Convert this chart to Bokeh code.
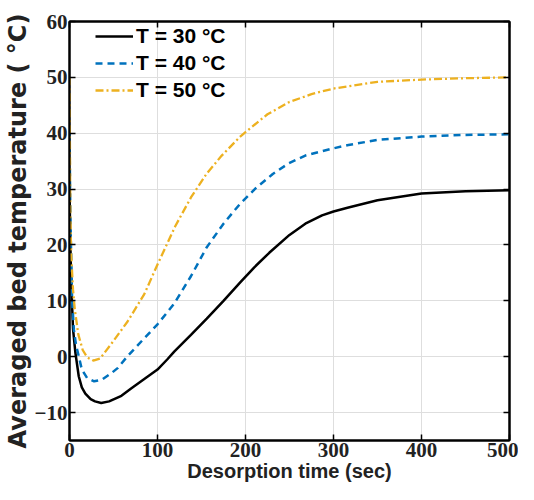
from bokeh.plotting import figure
from bokeh.models import LinearAxis, FixedTicker, Range1d
from bokeh.embed import file_html
from bokeh.resources import INLINE

# ---- data ----
t30 = [0, 1, 2, 4, 6.7, 10.5, 14, 18, 24, 29, 36, 45, 59, 70, 85, 100, 111, 119, 138, 156,
       175, 194, 210, 227, 250, 268, 287, 300, 317, 350, 400, 450, 500]
y30 = [30, 20, 13, 5, 0.7, -3.5, -5.5, -6.6, -7.6, -8.0, -8.3, -8.0, -7.0, -5.7, -4.0, -2.3, -0.5, 0.9, 3.9, 6.8,
       10.0, 13.3, 16.0, 18.6, 21.8, 23.8, 25.3, 26.0, 26.7, 28.0, 29.2, 29.6, 29.8]

t40 = [0, 1, 3, 5, 7.5, 10.5, 14, 20, 28, 37, 48, 55, 66, 85, 100, 119, 138, 156, 175, 194,
       212, 231, 249, 268, 300, 317, 350, 400, 450, 500]
y40 = [40, 25, 10, 4.8, 2.0, 0.1, -2.3, -3.8, -4.4, -4.1, -2.9, -2.0, 0.1, 3.3, 5.8, 9.5, 14.4, 19.6, 23.8, 27.4,
       30.2, 32.7, 34.6, 36.0, 37.3, 37.9, 38.8, 39.4, 39.7, 39.8]

t50 = [0, 1, 2, 4, 6, 10, 15, 20, 27, 35, 48, 66, 85, 100, 120, 138, 156, 173, 194, 200,
       225, 250, 275, 300, 350, 400, 450, 500]
y50 = [50, 25, 18, 12, 8.5, 4.0, 1.2, -0.1, -0.7, -0.3, 2.4, 6.3, 11.2, 16.5, 23.3, 28.5, 32.8, 36.0, 39.4, 40.2,
       43.4, 45.6, 47.0, 48.0, 49.2, 49.6, 49.85, 50.0]

labels = ["T = 30 °C", "T = 40 °C", "T = 50 °C"]
x_ticks = [0, 100, 200, 300, 400, 500]
y_ticks = [-10, 0, 10, 20, 30, 40, 50, 60]

TICK_FONT = "Liberation Sans Narrow"

p = figure(width=518, height=484, x_range=Range1d(0, 500), y_range=Range1d(-15, 60),
           output_backend="svg", toolbar_location=None,
           min_border_left=30, min_border_right=9, min_border_top=21, min_border_bottom=30)

p.outline_line_color = "black"
p.outline_line_width = 2

p.xaxis.ticker = FixedTicker(ticks=x_ticks)
p.yaxis.ticker = FixedTicker(ticks=y_ticks)
for ax in (p.xaxis[0], p.yaxis[0]):
    ax.axis_line_color = "black"
    ax.axis_line_width = 2
    ax.major_tick_in = 6
    ax.major_tick_out = 0
    ax.major_tick_line_width = 1.5
    ax.minor_tick_line_color = None
    ax.major_label_text_font = TICK_FONT
    ax.major_label_text_font_style = "bold"
    ax.major_label_text_font_size = "21px"
    ax.major_label_text_color = "#222222"

p.xaxis.major_label_standoff = 2
p.yaxis.major_label_standoff = 2
p.xaxis.axis_label = "Desorption time (sec)"
p.xaxis.axis_label_text_font = "Liberation Sans"
p.xaxis.axis_label_text_font_style = "bold"
p.xaxis.axis_label_text_font_size = "20px"
p.xaxis.axis_label_text_color = "#222222"
p.xaxis.axis_label_standoff = 0

p.yaxis.axis_label = "Averaged bed temperature ( °C)"
p.yaxis.axis_label_text_font = "DejaVu Sans"
p.yaxis.axis_label_text_font_style = "bold"
p.yaxis.axis_label_text_font_size = "24px"
p.yaxis.axis_label_text_color = "#222222"
p.yaxis.axis_label_standoff = 0

for loc, tk in (("right", y_ticks), ("above", x_ticks)):
    ax = LinearAxis(ticker=FixedTicker(ticks=tk))
    ax.axis_line_color = "black"
    ax.axis_line_width = 2
    ax.major_tick_in = 6
    ax.major_tick_out = 0
    ax.major_tick_line_width = 1.5
    ax.minor_tick_line_color = None
    ax.major_label_text_font_size = "0px"
    ax.major_label_text_alpha = 0
    ax.major_label_standoff = 0
    p.add_layout(ax, loc)

p.grid.grid_line_color = "#dedede"
p.grid.grid_line_width = 1

p.line(t30, y30, color="black", line_width=2.5, legend_label=labels[0])
p.line(t40, y40, color="#0072BD", line_width=2.5, line_dash="7 5", legend_label=labels[1])
p.line(t50, y50, color="#EDB120", line_width=2.3, line_dash="8 3 2 3", legend_label=labels[2])

lg = p.legend[0]
lg.location = (26, 338)
lg.border_line_color = None
lg.background_fill_alpha = 0
lg.padding = 0
lg.margin = 0
lg.spacing = 3
lg.glyph_height = 24
lg.label_height = 24
lg.glyph_width = 38
lg.label_standoff = 3
lg.label_text_font = "Liberation Sans"
lg.label_text_font_style = "bold"
lg.label_text_font_size = "21px"
lg.label_text_color = "black"

open("out.html", "w").write(file_html(p, INLINE))
